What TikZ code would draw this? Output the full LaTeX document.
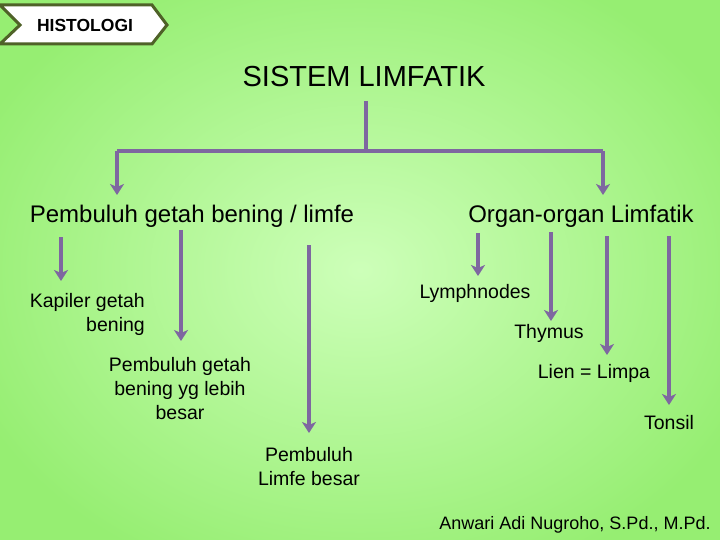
\documentclass[tikz,border=0pt]{standalone}
\usepackage{fontspec}
\setmainfont{Liberation Sans}
\usetikzlibrary{arrows.meta}
\definecolor{bgout}{HTML}{96EE72}
\definecolor{bgin}{HTML}{CDFFB9}
\definecolor{arr}{HTML}{7E67A0}
\definecolor{olive}{HTML}{4F6228}
\tikzset{
  conn/.style={draw=arr, line width=3.5pt, -{Stealth[length=11pt,width=14pt,inset=3pt]}},
  line/.style={draw=arr, line width=3.5pt},
  lbl/.style={font=\fontsize{19.5}{24}\selectfont, inner sep=0pt, align=center},
  head/.style={font=\fontsize{24}{28}\selectfont, inner sep=0pt},
}
\begin{document}
\begin{tikzpicture}[x=1pt,y=-1pt]
\useasboundingbox (0,0) rectangle (720,540);
\shade[inner color=bgin, outer color=bgout] (-60,-60) rectangle (780,600);
% banner
\draw[olive, line width=3pt, fill=white, line join=miter]
  (0,5) -- (152,5) -- (167,25) -- (152,44) -- (0,44) -- (20,25) -- cycle;
\node[font=\bfseries\fontsize{17.5}{20}\selectfont, inner sep=0pt] (histo) at (85,25) {HISTOLOGI};
% title
\node[font=\fontsize{29}{32}\selectfont, inner sep=0pt] (title) at (364,77) {SISTEM LIMFATIK};
\coordinate (t0) at (366,101);
\coordinate (tj) at (366,151);
\coordinate (tl) at (117,151);
\coordinate (tr) at (603,151);
\coordinate (tle) at (117,195);
\coordinate (tre) at (603,195);
\draw[line] (t0) -- (tj);
\draw[line] (tl) -- (tr);
\draw[conn] (tl) -- (tle);
\draw[conn] (tr) -- (tre);
% headings
\node[head] (pgb) at (192,216) {Pembuluh getah bening / limfe};
\node[head] (org) at (581,216) {Organ-organ Limfatik};
% left branch
\coordinate (a1s) at (61,237); \coordinate (a1e) at (61,281);
\coordinate (a2s) at (181,230); \coordinate (a2e) at (181,341);
\coordinate (a3s) at (309,245); \coordinate (a3e) at (309,433);
\draw[conn] (a1s) -- (a1e);
\draw[conn] (a2s) -- (a2e);
\draw[conn] (a3s) -- (a3e);
\node[lbl, align=right, anchor=north east] (kap) at (145,293) {Kapiler getah\\bening};
\node[lbl] (pgl) at (180,389) {Pembuluh getah\\bening yg lebih\\besar};
\node[lbl] (plb) at (309,467) {Pembuluh\\Limfe besar};
% right branch
\coordinate (b1s) at (478,233); \coordinate (b1e) at (478,276);
\coordinate (b2s) at (551,232); \coordinate (b2e) at (551,321);
\coordinate (b3s) at (607,236); \coordinate (b3e) at (607,355);
\coordinate (b4s) at (669,236); \coordinate (b4e) at (669,405);
\draw[conn] (b1s) -- (b1e);
\draw[conn] (b2s) -- (b2e);
\draw[conn] (b3s) -- (b3e);
\draw[conn] (b4s) -- (b4e);
\node[lbl] (lym) at (475,293) {Lymphnodes};
\node[lbl] (thy) at (549,333) {Thymus};
\node[lbl] (lien) at (594,373) {Lien = Limpa};
\node[lbl] (ton) at (669,423) {Tonsil};
% author
\node[font=\fontsize{18}{20}\selectfont, inner sep=0pt] (auth) at (575,525) {Anwari Adi Nugroho, S.Pd., M.Pd.};
\end{tikzpicture}
\end{document}
